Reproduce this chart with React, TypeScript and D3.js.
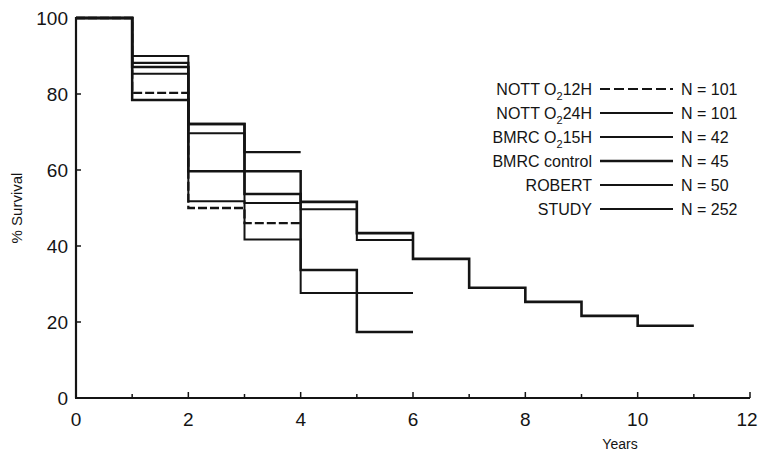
import { useEffect, useRef } from 'react';
import * as d3 from 'd3';

// survival (%) per yearly interval, interval i runs from year i to year i+1
const nott12 = [100, 80.3, 50, 46];
const nott24 = [100, 88.2, 72.1, 64.7];
const bmrc15 = [100, 85.3, 69.7, 51.3, 49.7, 41.6];
const bmrcControl = [100, 78.4, 59.7, 59.7, 33.7, 17.4];
const robert = [100, 90, 51.8, 41.7, 27.6, 27.6];
const study = [100, 87.1, 72.1, 53.7, 51.6, 43.4, 36.6, 29, 25.3, 21.6, 19];

const legendNames = ['NOTT O', 'NOTT O', 'BMRC O', 'BMRC control', 'ROBERT', 'STUDY'];
const legendSubs = ['12H', '24H', '15H', '', '', ''];
const legendN = ['N = 101', 'N = 101', 'N = 42', 'N = 45', 'N = 50', 'N = 252'];

const xTicks = [0, 2, 4, 6, 8, 10, 12];
const xMinor = [1, 3, 5, 7, 9, 11];
const yTicks = [0, 20, 40, 60, 80, 100];

const App = () => {
  const ref = useRef<SVGSVGElement>(null);

  useEffect(() => {
    document.body.style.margin = '0';
    const svg = d3.select(ref.current);
    svg.selectAll('*').remove();

    const font = 'Liberation Sans, Arial, sans-serif';
    const ink = '#141414';

    const x = d3.scaleLinear().domain([0, 12]).range([76, 750]);
    const y = d3.scaleLinear().domain([0, 100]).range([398, 18]);

    // axes
    svg.append('line')
      .attr('x1', x(0)).attr('x2', x(0))
      .attr('y1', y(100) - 1).attr('y2', y(0))
      .attr('stroke', ink).attr('stroke-width', 2.2);
    svg.append('line')
      .attr('x1', x(0) - 1).attr('x2', x(12))
      .attr('y1', y(0)).attr('y2', y(0))
      .attr('stroke', ink).attr('stroke-width', 2.2);

    svg.selectAll('.ytick')
      .data(yTicks)
      .enter().append('line')
      .attr('x1', x(0)).attr('x2', x(0) + 5)
      .attr('y1', d => y(d)).attr('y2', d => y(d))
      .attr('stroke', ink).attr('stroke-width', 1.5);
    svg.selectAll('.ylab')
      .data(yTicks)
      .enter().append('text')
      .attr('x', x(0) - 8)
      .attr('y', d => y(d))
      .attr('dy', '0.36em')
      .attr('text-anchor', 'end')
      .attr('font-family', font)
      .attr('font-size', 19)
      .attr('fill', ink)
      .text(d => d);

    svg.selectAll('.xtick')
      .data(xTicks)
      .enter().append('line')
      .attr('x1', d => x(d)).attr('x2', d => x(d))
      .attr('y1', y(0)).attr('y2', y(0) - 6)
      .attr('stroke', ink).attr('stroke-width', 1.5);
    svg.selectAll('.xminor')
      .data(xMinor)
      .enter().append('line')
      .attr('x1', d => x(d)).attr('x2', d => x(d))
      .attr('y1', y(0)).attr('y2', y(0) - 4)
      .attr('stroke', ink).attr('stroke-width', 1.5);
    svg.selectAll('.xlab')
      .data(xTicks)
      .enter().append('text')
      .attr('x', d => (d === 12 ? x(d) - 3 : x(d)))
      .attr('y', y(0) + 28)
      .attr('text-anchor', 'middle')
      .attr('font-family', font)
      .attr('font-size', 19)
      .attr('fill', ink)
      .text(d => d);

    svg.append('text')
      .attr('x', 620).attr('y', 449)
      .attr('text-anchor', 'middle')
      .attr('font-family', font).attr('font-size', 14)
      .attr('fill', ink)
      .text('Years');
    svg.append('text')
      .attr('transform', `translate(22, ${y(50)}) rotate(-90)`)
      .attr('text-anchor', 'middle')
      .attr('font-family', font).attr('font-size', 15)
      .attr('fill', ink)
      .text('% Survival');

    // step curves
    const series = [
      { vals: bmrcControl, w: 2.5, dash: null },
      { vals: robert, w: 2, dash: null },
      { vals: bmrc15, w: 2, dash: null },
      { vals: nott24, w: 2.3, dash: null },
      { vals: nott12, w: 2.3, dash: '9,3' },
      { vals: study, w: 2.6, dash: null },
    ];
    const step = d3.line<[number, number]>()
      .x(d => x(d[0]))
      .y(d => y(d[1]))
      .curve(d3.curveStepAfter);

    series.forEach(s => {
      const pts: [number, number][] = s.vals.map((v, i) => [i, v]);
      pts.push([s.vals.length, s.vals[s.vals.length - 1]]);
      const p = svg.append('path')
        .attr('d', step(pts))
        .attr('fill', 'none')
        .attr('stroke', ink)
        .attr('stroke-width', s.w);
      if (s.dash) p.attr('stroke-dasharray', s.dash);
    });

    // legend
    const legendStyles = [
      { w: 2.2, dash: '10,4' },
      { w: 1.8, dash: null },
      { w: 1.8, dash: null },
      { w: 2.4, dash: null },
      { w: 1.8, dash: null },
      { w: 2.2, dash: null },
    ];
    legendNames.forEach((name, i) => {
      const ly = 89 + i * 24;
      const t = svg.append('text')
        .attr('x', 592).attr('y', ly)
        .attr('dy', '0.36em')
        .attr('text-anchor', 'end')
        .attr('font-family', font).attr('font-size', 16)
        .attr('fill', ink);
      t.append('tspan').text(name);
      if (legendSubs[i]) {
        t.append('tspan').attr('font-size', 11).attr('dy', 5).text('2');
        t.append('tspan').attr('dy', -5).text(legendSubs[i]);
      }
      const ln = svg.append('line')
        .attr('x1', 600).attr('x2', 673)
        .attr('y1', ly).attr('y2', ly)
        .attr('stroke', ink)
        .attr('stroke-width', legendStyles[i].w);
      if (legendStyles[i].dash) ln.attr('stroke-dasharray', legendStyles[i].dash);
      svg.append('text')
        .attr('x', 681).attr('y', ly)
        .attr('dy', '0.36em')
        .attr('font-family', font).attr('font-size', 16)
        .attr('fill', ink)
        .text(legendN[i]);
    });
  }, []);

  return (
    <svg ref={ref} width={759} height={453} style={{ position: 'absolute', left: 0, top: 0, background: '#fff' }} />
  );
};

export default App;
